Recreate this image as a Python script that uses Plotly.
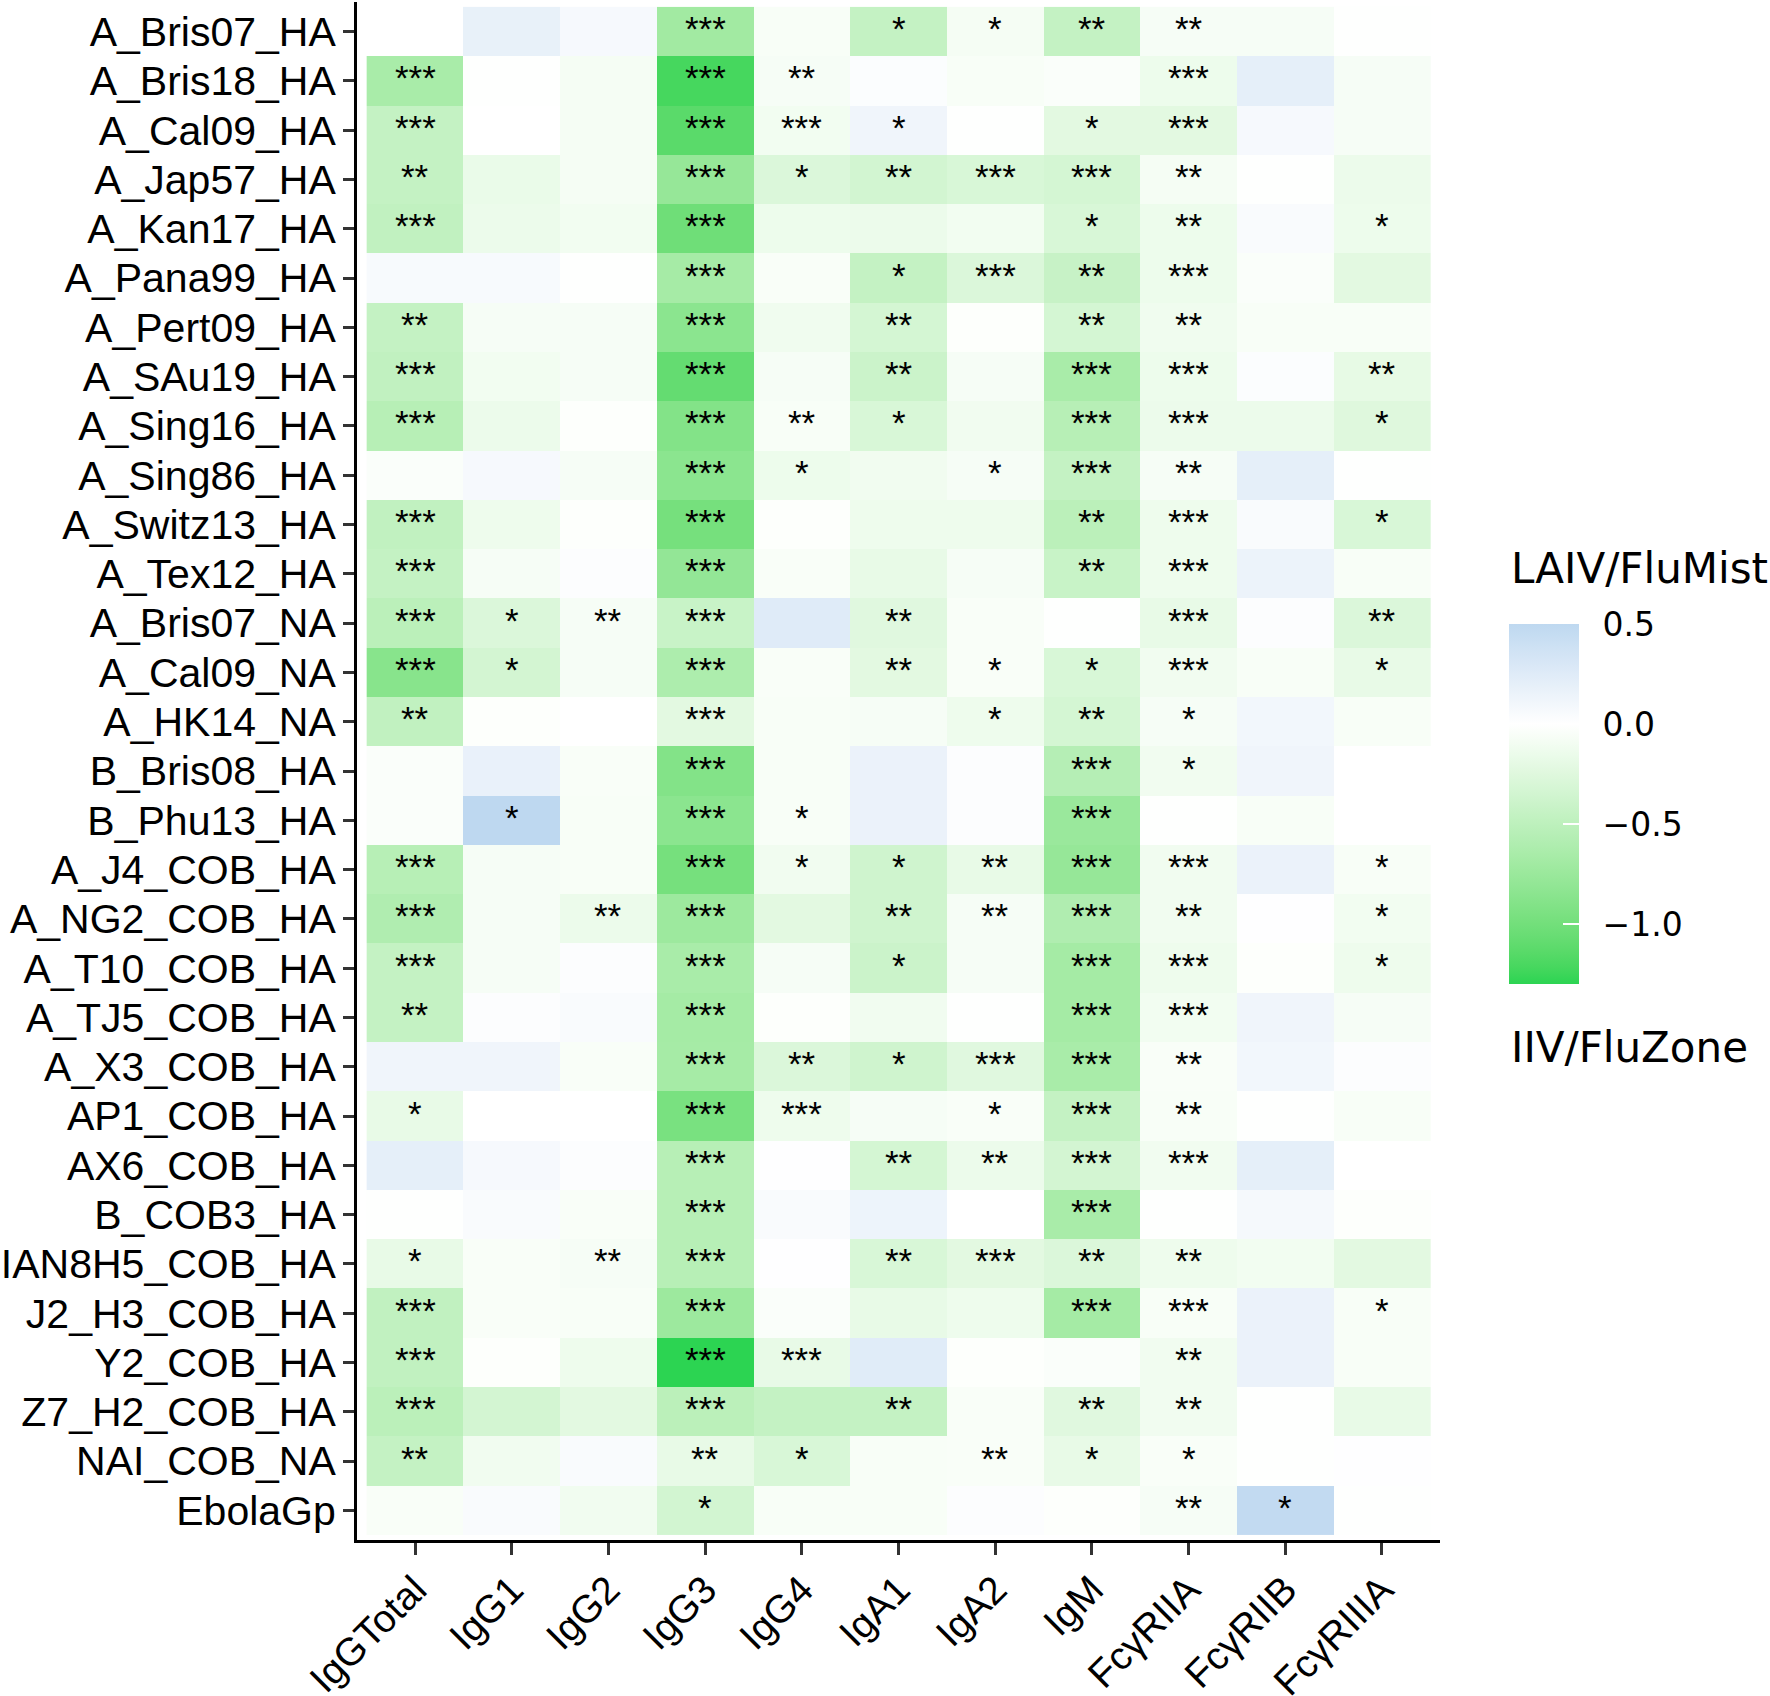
import plotly.graph_objects as go

# ---------------- data ----------------
antigens = ["A_Bris07_HA", "A_Bris18_HA", "A_Cal09_HA", "A_Jap57_HA", "A_Kan17_HA",
            "A_Pana99_HA", "A_Pert09_HA", "A_SAu19_HA", "A_Sing16_HA", "A_Sing86_HA",
            "A_Switz13_HA", "A_Tex12_HA", "A_Bris07_NA", "A_Cal09_NA", "A_HK14_NA",
            "B_Bris08_HA", "B_Phu13_HA", "A_J4_COB_HA", "A_NG2_COB_HA", "A_T10_COB_HA",
            "A_TJ5_COB_HA", "A_X3_COB_HA", "AP1_COB_HA", "AX6_COB_HA", "B_COB3_HA",
            "IAN8H5_COB_HA", "J2_H3_COB_HA", "Y2_COB_HA", "Z7_H2_COB_HA", "NAI_COB_NA",
            "EbolaGp"]

features = ["IgGTotal", "IgG1", "IgG2", "IgG3", "IgG4", "IgA1", "IgA2", "IgM",
            "FcγRIIA", "FcγRIIB", "FcγRIIIA"]

igg_total = [0.0, -0.65, -0.45, -0.45, -0.47, 0.06, -0.45, -0.47, -0.55, -0.04, -0.47, -0.45,
             -0.52, -0.87, -0.47, -0.04, -0.04, -0.55, -0.6, -0.45, -0.45, 0.12, -0.18, 0.2,
             -0.01, -0.18, -0.47, -0.47, -0.52, -0.45, -0.05]
igg1 = [0.18, -0.01, 0.0, -0.16, -0.15, 0.06, -0.07, -0.1, -0.15, 0.07, -0.13, -0.07,
        -0.28, -0.34, -0.02, 0.17, 0.5, -0.07, -0.07, -0.07, 0.02, 0.12, 0.0, 0.07,
        0.05, -0.05, -0.05, -0.02, -0.34, -0.11, 0.05]
igg2 = [0.07, -0.08, -0.08, -0.08, -0.1, -0.01, -0.07, -0.07, -0.02, -0.07, -0.02, 0.02,
        -0.07, -0.07, 0.0, -0.05, -0.06, -0.06, -0.15, 0.02, 0.05, -0.05, 0.0, 0.02,
        -0.05, -0.07, -0.06, -0.13, -0.22, 0.05, -0.11]
igg3 = [-0.7, -1.22, -1.13, -0.78, -1.02, -0.67, -0.85, -1.08, -0.9, -0.85, -0.98, -0.8,
        -0.42, -0.62, -0.22, -0.9, -0.85, -0.98, -0.73, -0.65, -0.68, -0.67, -0.96, -0.55,
        -0.55, -0.55, -0.73, -1.3, -0.52, -0.18, -0.35]
igg4 = [-0.06, -0.07, -0.1, -0.28, -0.14, -0.05, -0.12, -0.07, -0.06, -0.14, -0.02, -0.05,
        0.25, -0.05, -0.06, -0.06, -0.06, -0.11, -0.22, -0.07, -0.02, -0.28, -0.13, 0.01,
        0.05, 0.01, -0.04, -0.18, -0.45, -0.3, -0.06]
iga1 = [-0.45, 0.03, 0.12, -0.35, -0.15, -0.45, -0.33, -0.4, -0.3, -0.11, -0.13, -0.18,
        -0.24, -0.22, -0.07, 0.16, 0.16, -0.37, -0.37, -0.4, -0.11, -0.37, -0.07, -0.33,
        0.14, -0.3, -0.18, 0.24, -0.45, -0.06, -0.06]
iga2 = [-0.08, -0.06, -0.01, -0.3, -0.1, -0.28, -0.02, -0.07, -0.11, -0.07, -0.13, -0.07,
        -0.05, -0.05, -0.13, 0.02, 0.02, -0.18, -0.07, -0.07, -0.01, -0.24, -0.05, -0.15,
        0.0, -0.22, -0.13, -0.02, -0.05, -0.05, 0.02]
igm = [-0.45, -0.04, -0.22, -0.33, -0.3, -0.43, -0.33, -0.65, -0.55, -0.45, -0.52, -0.42,
       -0.01, -0.3, -0.33, -0.56, -0.75, -0.78, -0.6, -0.68, -0.68, -0.65, -0.45, -0.34,
       -0.65, -0.28, -0.68, -0.04, -0.24, -0.18, -0.02]
fcr2a = [-0.07, -0.14, -0.22, -0.08, -0.14, -0.14, -0.12, -0.14, -0.15, -0.07, -0.13, -0.13,
         -0.18, -0.11, -0.07, -0.11, -0.01, -0.11, -0.11, -0.13, -0.1, -0.05, -0.06, -0.11,
         -0.01, -0.13, -0.06, -0.11, -0.11, -0.05, -0.07]
fcr2b = [-0.07, 0.2, 0.07, -0.01, 0.05, -0.04, -0.06, 0.03, -0.15, 0.2, 0.05, 0.15,
         0.02, -0.06, 0.1, 0.12, -0.06, 0.16, 0.01, -0.02, 0.12, 0.1, -0.01, 0.2,
         0.08, -0.1, 0.16, 0.16, -0.01, -0.01, 0.47]
fcr3a = [-0.01, -0.07, -0.07, -0.15, -0.14, -0.22, -0.06, -0.19, -0.25, -0.01, -0.3, -0.06,
         -0.28, -0.18, -0.06, 0.0, 0.0, -0.06, -0.1, -0.13, -0.07, 0.02, -0.06, 0.0,
         -0.02, -0.22, -0.06, -0.06, -0.18, 0.01, -0.01]

s_igg_total = ["", "***", "***", "**", "***", "", "**", "***", "***", "", "***", "***",
               "***", "***", "**", "", "", "***", "***", "***", "**", "", "*", "",
               "", "*", "***", "***", "***", "**", ""]
s_igg1 = ["", "", "", "", "", "", "", "", "", "", "", "",
          "*", "*", "", "", "*", "", "", "", "", "", "", "",
          "", "", "", "", "", "", ""]
s_igg2 = ["", "", "", "", "", "", "", "", "", "", "", "",
          "**", "", "", "", "", "", "**", "", "", "", "", "",
          "", "**", "", "", "", "", ""]
s_igg3 = ["***"] * 29 + ["**", "*"]
s_igg4 = ["", "**", "***", "*", "", "", "", "", "**", "*", "", "",
          "", "", "", "", "*", "*", "", "", "", "**", "***", "",
          "", "", "", "***", "", "*", ""]
s_iga1 = ["*", "", "*", "**", "", "*", "**", "**", "*", "", "", "",
          "**", "**", "", "", "", "*", "**", "*", "", "*", "", "**",
          "", "**", "", "", "**", "", ""]
s_iga2 = ["*", "", "", "***", "", "***", "", "", "", "*", "", "",
          "", "*", "*", "", "", "**", "**", "", "", "***", "*", "**",
          "", "***", "", "", "", "**", ""]
s_igm = ["**", "", "*", "***", "*", "**", "**", "***", "***", "***", "**", "**",
         "", "*", "**", "***", "***", "***", "***", "***", "***", "***", "***", "***",
         "***", "**", "***", "", "**", "*", ""]
s_fcr2a = ["**", "***", "***", "**", "**", "***", "**", "***", "***", "**", "***", "***",
           "***", "***", "*", "*", "", "***", "**", "***", "***", "**", "**", "***",
           "", "**", "***", "**", "**", "*", "**"]
s_fcr2b = [""] * 30 + ["*"]
s_fcr3a = ["", "", "", "", "*", "", "", "**", "*", "", "*", "",
           "**", "*", "", "", "", "*", "*", "*", "", "", "", "",
           "", "", "*", "", "", "", ""]

colorbar_ticks = [0.5, 0.0, -0.5, -1.0]
legend_top = "LAIV/FluMist"
legend_bottom = "IIV/FluZone"

# ---------------- build matrix ----------------
value_cols = [igg_total, igg1, igg2, igg3, igg4, iga1, iga2, igm, fcr2a, fcr2b, fcr3a]
star_cols = [s_igg_total, s_igg1, s_igg2, s_igg3, s_igg4, s_iga1, s_iga2, s_igm,
             s_fcr2a, s_fcr2b, s_fcr3a]
z = [[col[i] for col in value_cols] for i in range(len(antigens))]

ZMIN, ZMAX = -1.3, 0.5


# ---------------- Lab colour interpolation (ggplot-like gradient) ----------------
def _lin(c):
    c = c / 255.0
    return c / 12.92 if c <= 0.04045 else ((c + 0.055) / 1.055) ** 2.4


def _rgb2lab(rgb):
    r, g, b = [_lin(v) for v in rgb]
    X = (0.4124 * r + 0.3576 * g + 0.1805 * b) / 0.95047
    Y = 0.2126 * r + 0.7152 * g + 0.0722 * b
    Z = (0.0193 * r + 0.1192 * g + 0.9505 * b) / 1.08883
    f = lambda t: t ** (1 / 3) if t > 0.008856 else 7.787 * t + 16 / 116
    fx, fy, fz = f(X), f(Y), f(Z)
    return (116 * fy - 16, 500 * (fx - fy), 200 * (fy - fz))


def _lab2rgb(lab):
    L, a, b = lab
    fy = (L + 16) / 116
    fx = fy + a / 500
    fz = fy - b / 200
    finv = lambda t: t ** 3 if t ** 3 > 0.008856 else (t - 16 / 116) / 7.787
    X = finv(fx) * 0.95047
    Y = finv(fy)
    Z = finv(fz) * 1.08883
    r = 3.2406 * X - 1.5372 * Y - 0.4986 * Z
    g = -0.9689 * X + 1.8758 * Y + 0.0415 * Z
    bb = 0.0557 * X - 0.2040 * Y + 1.0570 * Z

    def gam(c):
        c = min(max(c, 0.0), 1.0)
        return 12.92 * c if c <= 0.0031308 else 1.055 * c ** (1 / 2.4) - 0.055

    return tuple(int(round(255 * gam(v))) for v in (r, g, bb))


def _mix(c1, c2, t):
    l1, l2 = _rgb2lab(c1), _rgb2lab(c2)
    return _lab2rgb(tuple(l1[k] + (l2[k] - l1[k]) * t for k in range(3)))


GREEN = (44, 212, 82)
WHITE = (255, 255, 255)
BLUE = (190, 216, 240)

colorscale = []
n_low, n_high = 16, 8
for k in range(n_low + 1):
    v = ZMIN + (0 - ZMIN) * k / n_low
    c = _mix(GREEN, WHITE, k / n_low)
    colorscale.append([(v - ZMIN) / (ZMAX - ZMIN), "rgb(%d,%d,%d)" % c])
for k in range(1, n_high + 1):
    v = ZMAX * k / n_high
    c = _mix(WHITE, BLUE, k / n_high)
    colorscale.append([(v - ZMIN) / (ZMAX - ZMIN), "rgb(%d,%d,%d)" % c])
colorscale[-1][0] = 1.0

# ---------------- figure geometry ----------------
W, H = 1770, 1696
L, R, T, B = 357, 330, 2, 156
plot_w = W - L - R
plot_h = H - T - B


def px_x(x):
    return (x - L) / plot_w


def px_y(y):
    return (H - B - y) / plot_h


tick_text = ["\u2002" + ("%.1f" % v).replace("-", "\u2212") for v in colorbar_ticks]

fig = go.Figure(
    go.Heatmap(
        z=z,
        x=features,
        y=antigens,
        colorscale=colorscale,
        zmin=ZMIN,
        zmax=ZMAX,
        xgap=0,
        ygap=0,
        colorbar=dict(
            thickness=70,
            thicknessmode="pixels",
            len=360,
            lenmode="pixels",
            x=px_x(1509),
            xanchor="left",
            y=px_y(804),
            yanchor="middle",
            xpad=0,
            ypad=0,
            outlinewidth=0,
            tickmode="array",
            tickvals=colorbar_ticks,
            ticktext=tick_text,
            ticks="inside",
            ticklen=16,
            tickwidth=2,
            tickcolor="white",
            tickfont=dict(family="DejaVu Sans", size=33, color="black"),
            title=dict(text=""),
        ),
    )
)

# significance stars, placed at each cell through the category axes
star_annotations = []
for i, ag in enumerate(antigens):
    for j, ft in enumerate(features):
        s = star_cols[j][i]
        if s:
            star_annotations.append(dict(
                x=ft, y=ag, xref="x", yref="y", text=s, showarrow=False,
                yshift=3, xanchor="center", yanchor="middle",
                font=dict(family="Liberation Sans, Arial, sans-serif", size=35, color="black"),
            ))

axis_font = dict(family="Liberation Sans, Arial, Helvetica, sans-serif", color="black")

fig.update_layout(
    width=W,
    height=H,
    margin=dict(l=L, r=R, t=T, b=B, autoexpand=False),
    paper_bgcolor="white",
    plot_bgcolor="white",
    xaxis=dict(
        type="category",
        range=[-0.6, len(features) - 0.4],
        tickmode="array",
        tickvals=features,
        ticktext=features,
        showline=True,
        linecolor="black",
        linewidth=3,
        ticks="outside",
        ticklen=12,
        tickwidth=3,
        tickcolor="#333333",
        tickangle=-45,
        tickfont=dict(size=39, **axis_font),
        ticklabelstandoff=-4,
        showgrid=False,
        zeroline=False,
        automargin=False,
        fixedrange=True,
    ),
    yaxis=dict(
        type="category",
        range=[len(antigens) - 0.4, -0.6],
        tickmode="array",
        tickvals=antigens,
        ticktext=antigens,
        showline=True,
        linecolor="black",
        linewidth=3,
        ticks="outside",
        ticklen=11,
        tickwidth=3,
        tickcolor="#333333",
        tickfont=dict(size=41, **axis_font),
        ticklabelstandoff=-1,
        showgrid=False,
        zeroline=False,
        automargin=False,
        fixedrange=True,
    ),
    annotations=star_annotations + [
        dict(text=legend_top, x=px_x(1509), y=px_y(568), xref="paper", yref="paper",
             xanchor="left", yanchor="middle", showarrow=False,
             font=dict(family="DejaVu Sans", size=42, color="black")),
        dict(text=legend_bottom, x=px_x(1509), y=px_y(1047), xref="paper", yref="paper",
             xanchor="left", yanchor="middle", showarrow=False,
             font=dict(family="DejaVu Sans", size=42, color="black")),
    ],
)

fig.write_html("out.html", config={"displayModeBar": False},
               post_script="document.body.style.margin='0px';")
